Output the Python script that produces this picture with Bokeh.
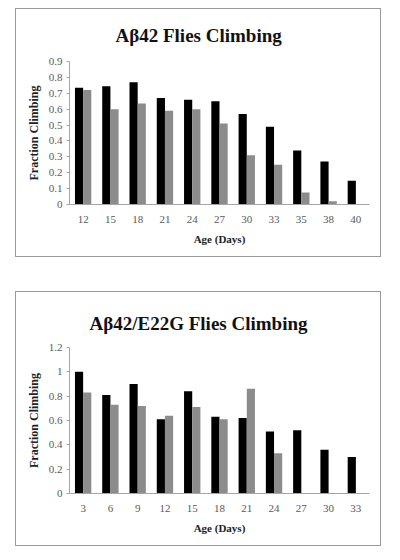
from bokeh.plotting import figure
from bokeh.layouts import column
from bokeh.models import (Range1d, FixedTicker, CustomJSTickFormatter,
                          ColumnDataSource, FactorRange)
from bokeh.transform import dodge
from bokeh.embed import file_html
from bokeh.resources import INLINE

FONT = "Liberation Serif"

# ---- data: top chart ----
top_title = "Aβ42 Flies Climbing"
top_days = ["12", "15", "18", "21", "24", "27", "30", "33", "35", "38", "40"]
top_black = [0.735, 0.745, 0.77, 0.67, 0.66, 0.65, 0.57, 0.49, 0.34, 0.27, 0.15]
top_gray = [0.72, 0.60, 0.635, 0.59, 0.60, 0.51, 0.31, 0.25, 0.075, 0.02, 0.0]
top_yticks = [0, 0.1, 0.2, 0.3, 0.4, 0.5, 0.6, 0.7, 0.8, 0.9]

# ---- data: bottom chart ----
bot_title = "Aβ42/E22G Flies Climbing"
bot_days = ["3", "6", "9", "12", "15", "18", "21", "24", "27", "30", "33"]
bot_black = [1.0, 0.81, 0.90, 0.61, 0.84, 0.63, 0.62, 0.51, 0.52, 0.36, 0.30]
bot_gray = [0.83, 0.73, 0.72, 0.64, 0.71, 0.61, 0.86, 0.33, 0.0, 0.0, 0.0]
bot_yticks = [0, 0.2, 0.4, 0.6, 0.8, 1.0, 1.2]

x_label = "Age (Days)"
y_label = "Fraction Climbing"

AXIS = "#a6a6a6"
TICKLBL = "#595959"


def make_chart(title, days, black, gray, yticks, height, top, bottom,
               title_offset, title_standoff, margin):
    src = ColumnDataSource(dict(day=days, black=black, gray=gray))
    p = figure(width=366, height=height,
               x_range=FactorRange(factors=days),
               y_range=Range1d(yticks[0], yticks[-1]),
               output_backend="svg", toolbar_location=None, title=title,
               min_border_left=53, min_border_right=13,
               min_border_top=top, min_border_bottom=bottom,
               margin=margin,
               styles={"border": "1px solid #9a9a9a"})
    p.vbar(x=dodge("day", -0.15, range=p.x_range), top="black", width=0.3,
           source=src, fill_color="#000000", line_color=None)
    p.vbar(x=dodge("day", 0.15, range=p.x_range), top="gray", width=0.3,
           source=src, fill_color="#8c8c8c", line_color=None)

    p.outline_line_color = None
    p.xgrid.visible = False
    p.ygrid.visible = False
    p.background_fill_color = "white"
    p.border_fill_color = "white"

    p.title.text_font = FONT
    p.title.text_font_size = "19px"
    p.title.text_font_style = "bold"
    p.title.text_color = "#111111"
    p.title.align = "left"
    p.title.offset = title_offset
    p.title.vertical_align = "middle"
    p.title.standoff = title_standoff

    ya = p.yaxis[0]
    ya.ticker = FixedTicker(ticks=yticks)
    ya.formatter = CustomJSTickFormatter(code="return String(Math.round(tick*10)/10);")
    ya.axis_line_color = AXIS
    ya.major_tick_line_color = AXIS
    ya.major_tick_in = 0
    ya.major_tick_out = 3
    ya.minor_tick_line_color = None
    ya.major_label_standoff = 4
    ya.major_label_text_font = FONT
    ya.major_label_text_font_size = "11px"
    ya.major_label_text_color = TICKLBL
    ya.axis_label = y_label
    ya.axis_label_text_font = FONT
    ya.axis_label_text_font_size = "12px"
    ya.axis_label_text_font_style = "bold"
    ya.axis_label_text_color = "#222222"
    ya.axis_label_standoff = 5

    xa = p.xaxis[0]
    xa.axis_line_color = AXIS
    xa.major_tick_line_color = None
    xa.major_tick_in = 0
    xa.major_tick_out = 0
    xa.minor_tick_line_color = None
    xa.major_label_standoff = 11
    xa.major_label_text_font = FONT
    xa.major_label_text_font_size = "11px"
    xa.major_label_text_color = TICKLBL
    xa.axis_label = x_label
    xa.axis_label_text_font = FONT
    xa.axis_label_text_font_size = "11px"
    xa.axis_label_text_font_style = "bold"
    xa.axis_label_text_color = "#222222"
    xa.axis_label_standoff = 7
    return p


p1 = make_chart(top_title, top_days, top_black, top_gray, top_yticks,
                249, 52, 54, 46, 29, (8, 0, 0, 15))
p2 = make_chart(bot_title, bot_days, bot_black, bot_gray, bot_yticks,
                255, 55, 54, 20, 26, (34, 0, 0, 15))

layout = column(p1, p2, spacing=0)
open("out.html", "w").write(file_html(layout, INLINE))
